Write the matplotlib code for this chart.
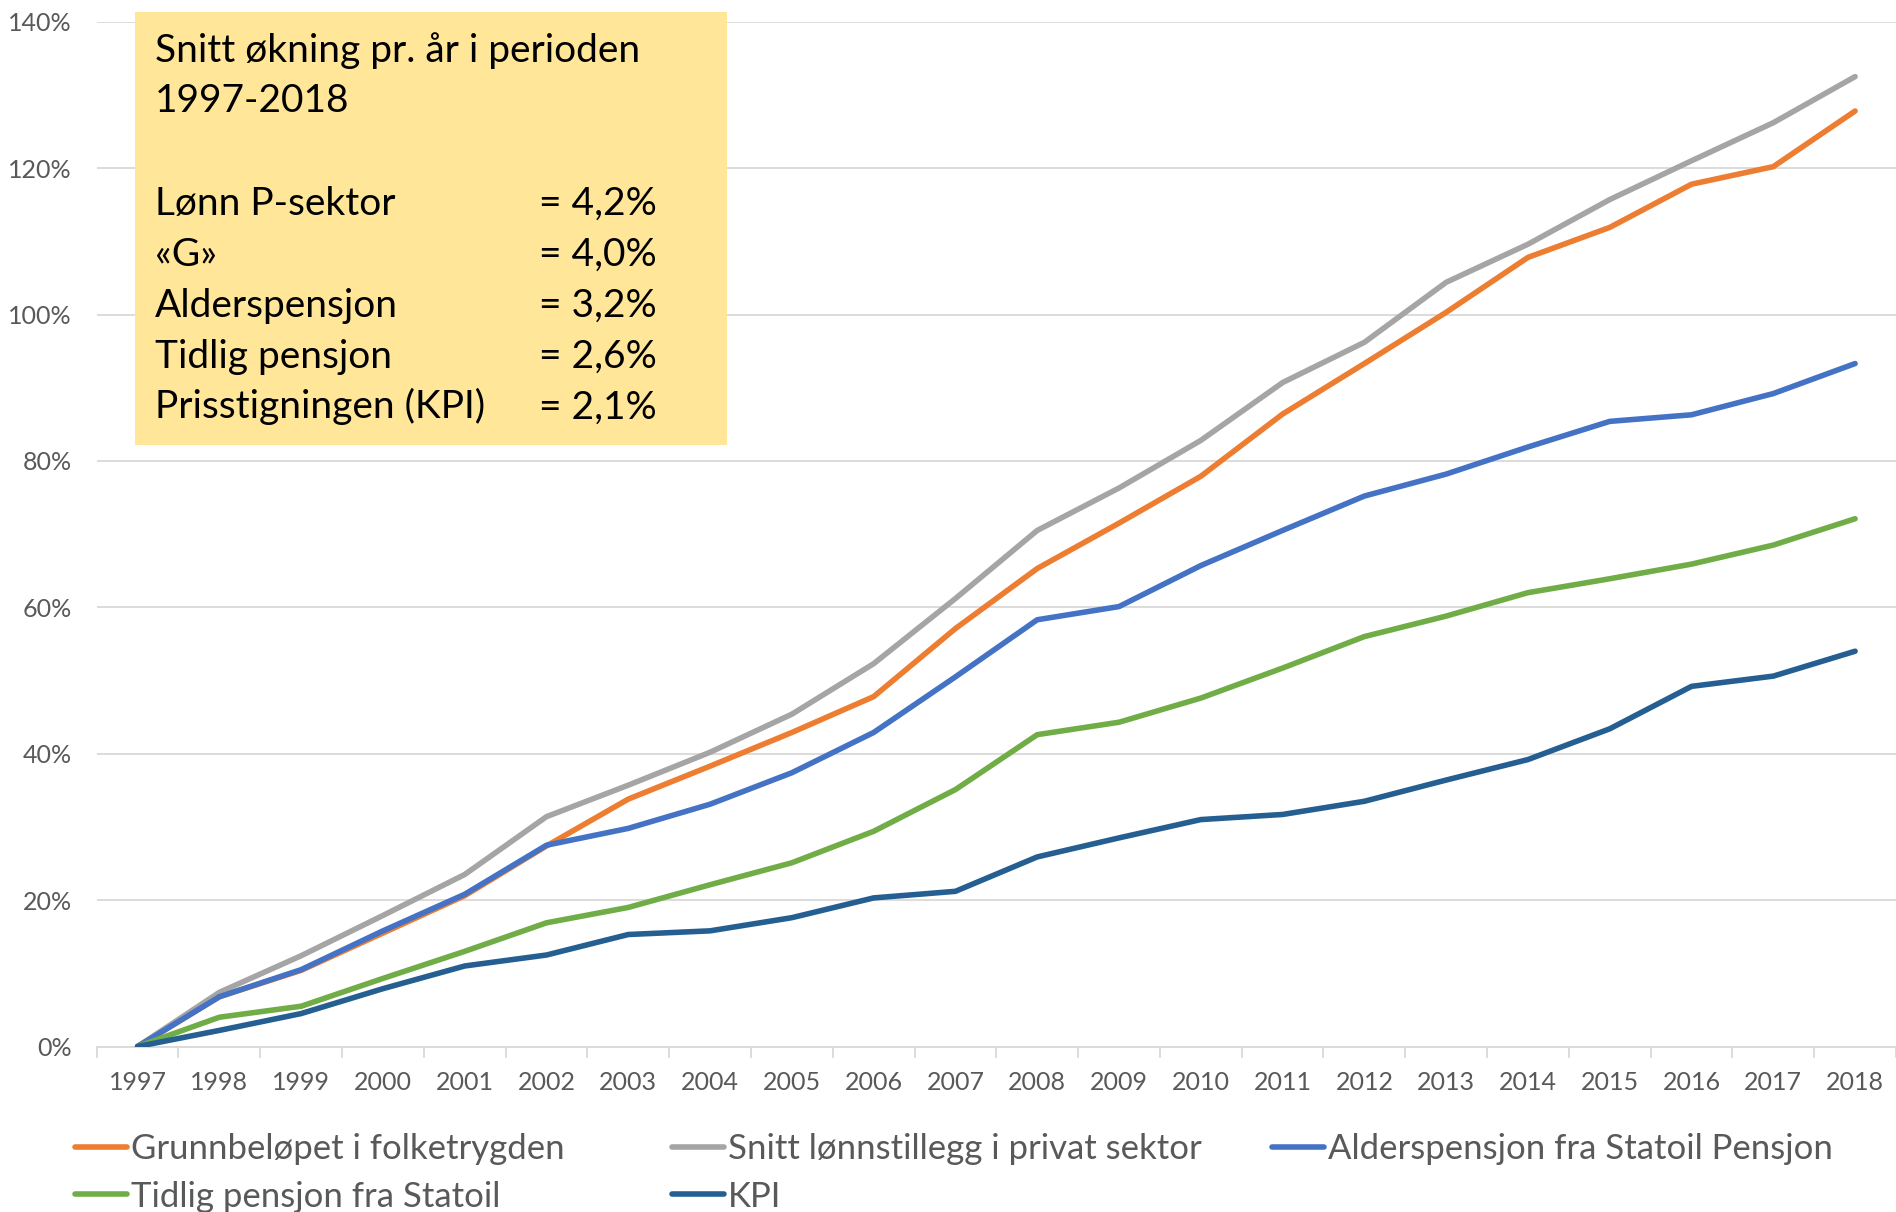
import numpy as np
import matplotlib.pyplot as plt
from matplotlib.patches import Rectangle

plt.rcParams['font.family'] = ['Liberation Sans Narrow', 'Lato', 'DejaVu Sans']

years = [str(y) for y in range(1997, 2019)]

# cumulative increase since 1997, in percent
grunnbelop = [0, 6.8, 10.4, 15.5, 20.6, 27.4, 33.8, 38.3, 42.9, 47.8, 57.1,
              65.3, 71.5, 77.9, 86.4, 93.3, 100.3, 107.8, 111.9, 117.8, 120.2, 127.8]
lonn = [0, 7.4, 12.4, 17.9, 23.5, 31.4, 35.7, 40.2, 45.4, 52.3, 61.2,
        70.5, 76.3, 82.8, 90.7, 96.2, 104.4, 109.6, 115.7, 121.0, 126.2, 132.5]
alder = [0, 6.8, 10.5, 15.8, 20.8, 27.5, 29.8, 33.1, 37.4, 42.9, 50.5,
         58.3, 60.1, 65.7, 70.5, 75.2, 78.2, 81.9, 85.4, 86.3, 89.2, 93.3]
tidlig = [0, 4.0, 5.5, 9.3, 13.0, 16.9, 19.0, 22.1, 25.1, 29.4, 35.1,
          42.6, 44.3, 47.6, 51.7, 56.0, 58.8, 62.0, 63.9, 65.9, 68.5, 72.1]
kpi = [0, 2.2, 4.5, 7.9, 11.0, 12.5, 15.3, 15.8, 17.6, 20.3, 21.2,
       25.9, 28.5, 31.0, 31.7, 33.5, 36.4, 39.2, 43.4, 49.2, 50.6, 54.0]

series = [
    ("Grunnbeløpet i folketrygden", grunnbelop, "#ED7D31"),
    ("Snitt lønnstillegg i privat sektor", lonn, "#A5A5A5"),
    ("Alderspensjon fra Statoil Pensjon", alder, "#4472C4"),
    ("Tidlig pensjon fra Statoil", tidlig, "#70AD47"),
    ("KPI", kpi, "#255E91"),
]

box_labels = ["Lønn P-sektor", "«G»", "Alderspensjon", "Tidlig pensjon", "Prisstigningen (KPI)"]
box_values = ["= 4,2%", "= 4,0%", "= 3,2%", "= 2,6%", "= 2,1%"]

W, H = 1896, 1212
fig = plt.figure(figsize=(W / 100, H / 100), dpi=100)
ax = fig.add_axes([96.7 / W, (H - 1046.5) / H, 1 - 96.7 / W, (1046.5 - 21.7) / H])

x = np.arange(len(years))
lines = []
for name, vals, color in series:
    ln, = ax.plot(x, vals, color=color, lw=4.0, label=name,
                  solid_capstyle='round', solid_joinstyle='round', zorder=3)
    lines.append(ln)

ax.set_xlim(-0.5, len(years) - 0.5)
ax.set_ylim(0, 140)
ax.set_yticks(np.arange(0, 141, 20))
ax.set_yticklabels([f"{v}%" for v in range(0, 141, 20)])
ax.set_xticks(x)
ax.set_xticklabels(years)
ax.set_xticks(np.arange(-0.5, len(years)), minor=True)

ax.grid(axis='y', color='#D9D9D9', lw=1.3, zorder=0)
for s in ['top', 'right', 'left']:
    ax.spines[s].set_visible(False)
ax.spines['bottom'].set_color('#D9D9D9')
ax.spines['bottom'].set_linewidth(1.3)
ax.tick_params(axis='y', length=0, pad=18, labelsize=18, labelcolor='#595959')
ax.tick_params(axis='x', which='major', length=0, pad=18, labelsize=18, labelcolor='#595959')
ax.tick_params(axis='x', which='minor', length=8, width=1.3, color='#D9D9D9')

# yellow summary box
fig.patches.append(Rectangle((135 / W, 1 - 445 / H), (727 - 135) / W, (445 - 12) / H,
                             transform=fig.transFigure, facecolor='#FFE699',
                             edgecolor='none', zorder=5))
fs_box = 28
fig.text(155 / W, 1 - 61.7 / H, "Snitt økning pr. år i perioden", fontsize=fs_box,
         va='baseline', ha='left', zorder=6)
fig.text(155 / W, 1 - 111.7 / H, "1997-2018", fontsize=fs_box,
         va='baseline', ha='left', zorder=6)
baselines = [215, 265.7, 316.7, 367.7, 418.3]
for lab, val, yb in zip(box_labels, box_values, baselines):
    fig.text(155 / W, 1 - yb / H, lab, fontsize=fs_box, va='baseline', ha='left', zorder=6)
    fig.text(539 / W, 1 - yb / H, val, fontsize=fs_box, va='baseline', ha='left', zorder=6)

# legend, three columns filled row by row
cols = [([lines[0], lines[3]], 75), ([lines[1], lines[4]], 672), ([lines[2]], 1272)]
for hs, xl in cols:
    fig.legend(handles=hs, labels=[h.get_label() for h in hs], loc='upper left',
               bbox_to_anchor=(xl / W, 1 - 1133 / H), frameon=False,
               borderpad=0, borderaxespad=0, fontsize=25, handlelength=1.5,
               handletextpad=0.1, labelspacing=0.45, labelcolor='#595959')

fig.savefig("out.png", dpi=100)
